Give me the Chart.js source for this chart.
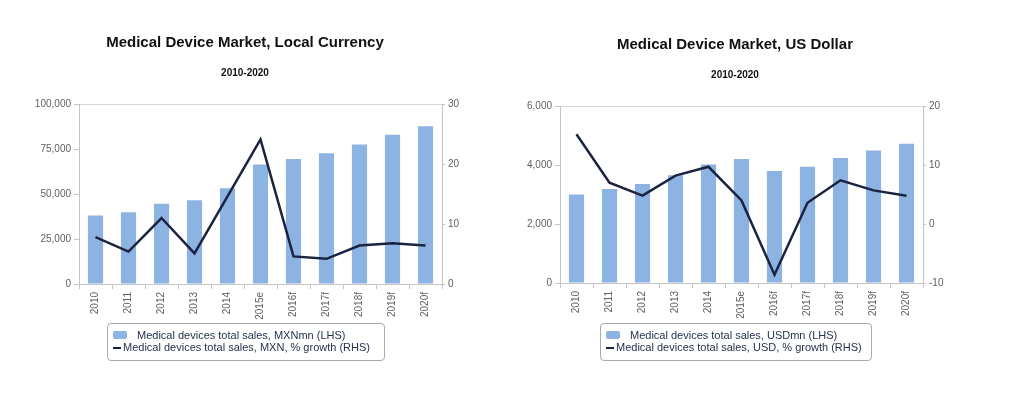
<!DOCTYPE html>
<html>
<head>
<meta charset="utf-8">
<script src="https://cdn.jsdelivr.net/npm/chart.js@4/dist/chart.umd.min.js"></script>
<style>
  body { margin: 0; background: #fff; width: 1029px; height: 417px; overflow: hidden; position: relative; font-family: "Liberation Sans", Arial, sans-serif; }
  canvas { position: absolute; top: 0; }
  #chart-mxn { left: 0; }
  #chart-usd { left: 490px; }
  .legenda { position: absolute; border: 1px solid #aaa; border-radius: 4px; font-size: 11px; color: #26324f; box-sizing: border-box; }
  .legenda div { position: absolute; white-space: nowrap; line-height: 12px; }
  .sw-bar { position: absolute; width: 14px; height: 8px; background: #8db3e2; border-radius: 2px; }
  .sw-line { position: absolute; width: 8px; height: 2px; background: #1b2340; }
</style>
</head>
<body>
<canvas id="chart-mxn" width="490" height="330"></canvas>
<canvas id="chart-usd" width="490" height="330"></canvas>

<div class="legenda" id="leg-mxn" style="left:107px; top:323px; width:278px; height:38px;"></div>
<div class="legenda" id="leg-usd" style="left:600px; top:323px; width:272px; height:38px;"></div>

<script>
// --- DATA ---
const years = ['2010', '2011', '2012', '2013', '2014', '2015e', '2016f', '2017f', '2018f', '2019f', '2020f'];

// Local currency (MXNmn) and % growth
const salesMxn = [38100, 39800, 44600, 46500, 53200, 66400, 69500, 72700, 77500, 82900, 87700];
const growthMxn = [7.8, 5.4, 11.0, 5.1, 14.6, 24.1, 4.6, 4.2, 6.4, 6.8, 6.4];

// US dollar (USDmn) and % growth
const salesUsd = [3000, 3190, 3360, 3650, 4020, 4200, 3800, 3940, 4240, 4490, 4720];
const growthUsd = [15.2, 7.0, 4.8, 8.2, 9.7, 4.0, -8.6, 3.6, 7.4, 5.7, 4.8];

// Axis ticks
const ticksMxnLeft = [0, 25000, 50000, 75000, 100000];
const ticksMxnRight = [0, 10, 20, 30];
const ticksUsdLeft = [0, 2000, 4000, 6000];
const ticksUsdRight = [-10, 0, 10, 20];

// --- STYLE ---
const barColor = '#8db3e2';
const lineColor = '#1b2340';
const axisColor = '#c4c4c4';
const tickText = '#606060';

Chart.defaults.font.family = '"Liberation Sans", Arial, sans-serif';
Chart.defaults.font.size = 10;
Chart.defaults.color = tickText;

// Builds one of the two combo charts
function createChart(canvasId, cfg) {
    const ctx = document.getElementById(canvasId).getContext('2d');
    const left = cfg.ticksLeft;
    const right = cfg.ticksRight;

    return new Chart(ctx, {
        type: 'bar',
        data: {
            labels: years,
            datasets: [
                {
                    type: 'line',
                    label: cfg.lineLabel,
                    data: cfg.growth,
                    yAxisID: 'y1',
                    borderColor: lineColor,
                    borderWidth: 2.5,
                    pointRadius: 0,
                    tension: 0,
                    order: 1
                },
                {
                    label: cfg.barLabel,
                    data: cfg.sales,
                    yAxisID: 'y',
                    backgroundColor: barColor,
                    barPercentage: 0.46,
                    categoryPercentage: 1,
                    order: 2
                }
            ]
        },
        options: {
            responsive: false,
            animation: false,
            layout: { padding: 0 },
            plugins: {
                legend: { display: false },
                tooltip: { enabled: false },
                title: {
                    display: true,
                    text: cfg.title,
                    color: '#111',
                    font: { size: 15, weight: 'bold' },
                    padding: { top: cfg.titleTop, bottom: 9 }
                },
                subtitle: {
                    display: true,
                    text: '2010-2020',
                    color: '#111',
                    font: { size: 10, weight: 'bold' },
                    padding: { top: 6, bottom: cfg.subBottom }
                }
            },
            scales: {
                x: {
                    grid: { offset: true, drawOnChartArea: false, color: axisColor, tickLength: 5 },
                    border: { color: axisColor },
                    ticks: { minRotation: 90, maxRotation: 90, padding: 3, color: tickText },
                    afterFit: (scale) => { scale.height = cfg.xHeight; }
                },
                y: {
                    position: 'left',
                    min: left[0],
                    max: left[left.length - 1],
                    ticks: { stepSize: left[1] - left[0], padding: 3, color: tickText },
                    grid: {
                        // only the top line of the plot frame is drawn
                        color: (c) => (c.tick && c.tick.value === left[left.length - 1]) ? '#d6d6d6' : 'rgba(0,0,0,0)',
                        tickColor: axisColor,
                        tickLength: 5
                    },
                    border: { color: axisColor },
                    afterFit: (scale) => { scale.width = cfg.leftWidth; }
                },
                y1: {
                    position: 'right',
                    min: right[0],
                    max: right[right.length - 1],
                    ticks: { stepSize: right[1] - right[0], padding: 3, color: tickText },
                    grid: { drawOnChartArea: false, color: axisColor, tickLength: 3 },
                    border: { color: axisColor },
                    afterFit: (scale) => { scale.width = cfg.rightWidth; }
                }
            }
        }
    });
}

// Legend box (html) under each chart
function fillLegend(id, barLabel, lineLabel) {
    const el = document.getElementById(id);
    el.innerHTML =
        '<span class="sw-bar" style="left:5px; top:7px;"></span>' +
        '<div style="left:29px; top:5px;">' + barLabel + '</div>' +
        '<span class="sw-line" style="left:5px; top:23px;"></span>' +
        '<div style="left:15px; top:17px;">' + lineLabel + '</div>';
}

// --- INIT ---
createChart('chart-mxn', {
    title: 'Medical Device Market, Local Currency',
    sales: salesMxn,
    growth: growthMxn,
    barLabel: 'Medical devices total sales, MXNmn (LHS)',
    lineLabel: 'Medical devices total sales, MXN, % growth (RHS)',
    ticksLeft: ticksMxnLeft,
    ticksRight: ticksMxnRight,
    titleTop: 34,
    subBottom: 25,
    leftWidth: 79,
    rightWidth: 48,
    xHeight: 46
});

createChart('chart-usd', {
    title: 'Medical Device Market, US Dollar',
    sales: salesUsd,
    growth: growthUsd,
    barLabel: 'Medical devices total sales, USDmn (LHS)',
    lineLabel: 'Medical devices total sales, USD, % growth (RHS)',
    ticksLeft: ticksUsdLeft,
    ticksRight: ticksUsdRight,
    titleTop: 36,
    subBottom: 25,
    leftWidth: 70,
    rightWidth: 57,
    xHeight: 47
});

fillLegend('leg-mxn', 'Medical devices total sales, MXNmn (LHS)', 'Medical devices total sales, MXN, % growth (RHS)');
fillLegend('leg-usd', 'Medical devices total sales, USDmn (LHS)', 'Medical devices total sales, USD, % growth (RHS)');
</script>
</body>
</html>
